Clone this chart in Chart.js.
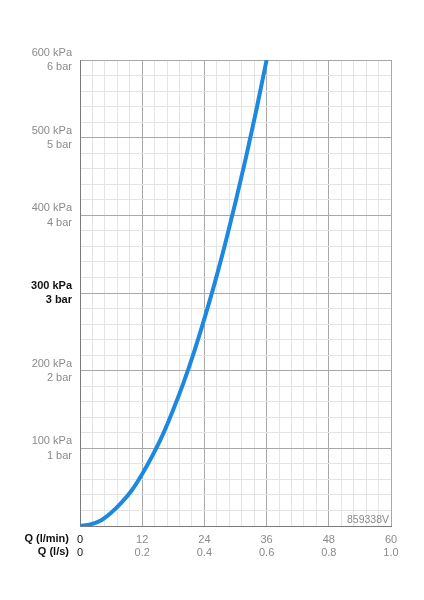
<!DOCTYPE html>
<html>
<head>
<meta charset="utf-8">
<script src="https://cdn.jsdelivr.net/npm/chart.js@4/dist/chart.umd.min.js"></script>
<style>
  html, body { margin: 0; padding: 0; background: #fff; }
  #wrap { width: 424px; height: 600px; position: relative; }
</style>
</head>
<body>
<div id="wrap"><canvas id="chart"></canvas></div>
<script>
// débit (l/min) et perte de charge (kPa)
const flowLmin = [0, 2, 4, 6, 8, 10, 12, 14, 16, 18, 20, 22, 24, 26, 28, 30, 32, 34, 36];
const pressureKpa = [0, 2, 7, 17, 30, 46, 67, 91, 118, 150, 185, 224, 267, 313, 363, 417, 474, 535, 600];

const xTicks = [0, 2.4, 4.8, 7.2, 9.6, 12, 14.4, 16.8, 19.2, 21.6, 24, 26.4, 28.8, 31.2, 33.6, 36, 38.4, 40.8, 43.2, 45.6, 48, 50.4, 52.8, 55.2, 57.6, 60];
const xMajor = [0, 12, 24, 36, 48, 60];
const xLabelsLmin = ['0', '12', '24', '36', '48', '60'];
const xLabelsLs = ['0', '0.2', '0.4', '0.6', '0.8', '1.0'];

const yMajor = [0, 100, 200, 300, 400, 500, 600];
const yLabelsKpa = ['', '100 kPa', '200 kPa', '300 kPa', '400 kPa', '500 kPa', '600 kPa'];
const yLabelsBar = ['', '1 bar', '2 bar', '3 bar', '4 bar', '5 bar', '6 bar'];

const refCode = '859338V';

const FONT = '"Liberation Sans", Arial, sans-serif';
const GREY_TXT = '#8a8a8a';
const MAJOR = '#a8a8a8';
const MINOR = '#e4e4e4';

function isMajor(list, v) {
    return list.some(m => Math.abs(m - v) < 1e-6);
}
function majorIndex(list, v) {
    return list.findIndex(m => Math.abs(m - v) < 1e-6);
}

// titres d'axe à gauche et référence en bas à droite
const extraText = {
    id: 'extraText',
    afterDraw(chart) {
        const ctx = chart.ctx;
        const area = chart.chartArea;
        ctx.save();
        ctx.font = 'bold 11px ' + FONT;
        ctx.fillStyle = '#111';
        ctx.textAlign = 'right';
        ctx.textBaseline = 'middle';
        ctx.fillText('Q (l/min)', area.left - 11, area.bottom + 13);
        ctx.fillText('Q (l/s)', area.left - 11, area.bottom + 26);

        ctx.font = '10.5px ' + FONT;
        ctx.fillStyle = GREY_TXT;
        ctx.textAlign = 'right';
        ctx.textBaseline = 'bottom';
        ctx.fillText(refCode, area.right - 2, area.bottom - 1);
        ctx.restore();
    }
};

const ctx = document.getElementById('chart').getContext('2d');
new Chart(ctx, {
    type: 'line',
    data: {
        datasets: [{
            data: flowLmin.map((q, i) => ({ x: q, y: pressureKpa[i] })),
            borderColor: '#1c88e0',
            borderWidth: 4,
            pointRadius: 0,
            cubicInterpolationMode: 'monotone',
            fill: false
        }]
    },
    options: {
        responsive: true,
        maintainAspectRatio: false,
        animation: false,
        layout: { padding: { top: 60, right: 33, left: 0, bottom: 0 } },
        plugins: { legend: { display: false }, tooltip: { enabled: false } },
        scales: {
            x: {
                type: 'linear',
                min: 0, max: 60,
                afterBuildTicks: scale => { scale.ticks = xTicks.map(v => ({ value: v })); },
                afterFit: scale => { scale.height = 74; },
                grid: {
                    drawTicks: false,
                    color: c => isMajor(xMajor, c.tick.value) ? MAJOR : MINOR
                },
                border: { color: '#7a7a7a', width: 1 },
                ticks: {
                    autoSkip: false,
                    maxRotation: 0,
                    padding: 7,
                    font: { family: FONT, size: 11, lineHeight: 1.2 },
                    color: c => c.tick.value === 0 ? '#111' : GREY_TXT,
                    callback: v => {
                        const i = majorIndex(xMajor, v);
                        return i < 0 ? '' : [xLabelsLmin[i], xLabelsLs[i]];
                    }
                }
            },
            y: {
                type: 'linear',
                min: 0, max: 600,
                ticks: {
                    stepSize: 20,
                    autoSkip: false,
                    padding: 8,
                    font: c => ({ family: FONT, size: 11, lineHeight: 1.3, weight: c.tick && c.tick.value === 300 ? 'bold' : 'normal' }),
                    color: c => c.tick.value === 300 ? '#111' : GREY_TXT,
                    callback: v => {
                        const i = majorIndex(yMajor, v);
                        return i <= 0 ? '' : [yLabelsKpa[i], yLabelsBar[i]];
                    }
                },
                afterFit: scale => { scale.width = 80; },
                grid: {
                    drawTicks: false,
                    color: c => isMajor(yMajor, c.tick.value) ? MAJOR : MINOR
                },
                border: { color: '#7a7a7a', width: 1 }
            }
        }
    },
    plugins: [extraText]
});
</script>
</body>
</html>
